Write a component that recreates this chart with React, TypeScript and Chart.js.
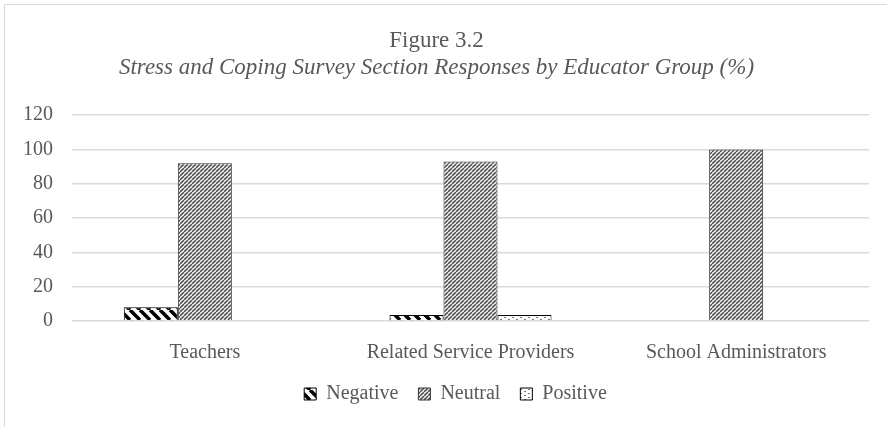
import React, { useEffect, useRef } from "react";
import { Chart, registerables } from "chart.js";

Chart.register(...registerables);

const categories = ["Teachers", "Related Service Providers", "School Administrators"];
const negativeValues = [8, 3.5, 0];
const neutralValues = [92, 93, 100];
const positiveValues = [0, 3.5, 0];
const seriesNames = ["Negative", "Neutral", "Positive"];
const yTicks = [0, 20, 40, 60, 80, 100, 120];

function makePattern(kind: string): CanvasPattern | string {
  const c = document.createElement("canvas");
  const ctx = c.getContext("2d");
  if (!ctx) return "#fff";
  if (kind === "neg") {
    c.width = 10; c.height = 10;
    ctx.fillStyle = "#fff"; ctx.fillRect(0, 0, 10, 10);
    ctx.strokeStyle = "#000"; ctx.lineWidth = 3.5;
    for (let o = -10; o <= 10; o += 10) {
      ctx.beginPath(); ctx.moveTo(o, 0); ctx.lineTo(o + 10, 10); ctx.stroke();
    }
  } else if (kind === "neu") {
    c.width = 4; c.height = 4;
    ctx.fillStyle = "#fff"; ctx.fillRect(0, 0, 4, 4);
    ctx.strokeStyle = "#555"; ctx.lineWidth = 1.6;
    for (let o = -4; o <= 4; o += 4) {
      ctx.beginPath(); ctx.moveTo(o, 4); ctx.lineTo(o + 4, 0); ctx.stroke();
    }
  } else {
    c.width = 8; c.height = 4;
    ctx.fillStyle = "#fff"; ctx.fillRect(0, 0, 8, 4);
    ctx.fillStyle = "#777"; ctx.fillRect(0, 1, 2, 1);
    ctx.fillRect(4, 3, 2, 1);
  }
  const p = ctx.createPattern(c, "repeat");
  return p || "#fff";
}

const frame = {
  id: "frame",
  beforeDraw(chart: any) {
    const ctx = chart.ctx;
    ctx.save();
    ctx.fillStyle = "#fff";
    ctx.fillRect(0, 0, chart.width, chart.height);
    ctx.strokeStyle = "#d9d9d9";
    ctx.lineWidth = 1;
    ctx.strokeRect(4.5, 4.5, chart.width + 50, chart.height + 50);
    ctx.restore();
  },
};

const legendShift = {
  id: "legendShift",
  afterLayout(chart: any) {
    const lg = chart.legend;
    if (lg) {
      lg.left += 19;
      lg.right += 19;
    }
  },
};

export default function App() {
  const ref = useRef<HTMLCanvasElement>(null);
  useEffect(() => {
    if (!ref.current) return;
    const pats = [makePattern("neg"), makePattern("neu"), makePattern("pos")];
    const borders = ["#000", "#333", "#000"];
    const vals = [negativeValues, neutralValues, positiveValues];
    const font = "'Liberation Serif', 'Times New Roman', serif";
    const chart = new Chart(ref.current, {
      type: "bar",
      data: {
        labels: categories,
        datasets: seriesNames.map((n, i) => ({
          label: n,
          data: vals[i],
          backgroundColor: pats[i] as any,
          borderColor: borders[i],
          borderWidth: 1,
          categoryPercentage: 0.61,
          barPercentage: 1,
        })),
      },
      options: {
        animation: false,
        responsive: false,
        devicePixelRatio: 1,
        layout: { padding: { top: 27, left: 4, right: 18, bottom: 13 } },
        plugins: {
          title: {
            display: true,
            text: "Figure 3.2",
            color: "#595959",
            font: { family: font, size: 23, weight: "normal" },
            padding: { top: 0, bottom: 0 },
          },
          subtitle: {
            display: true,
            text: "Stress and Coping Survey Section Responses by Educator Group (%)",
            color: "#595959",
            font: { family: font, size: 23, style: "italic", weight: "normal" },
            padding: { top: 0, bottom: 33 },
          },
          legend: {
            position: "bottom",
            labels: {
              color: "#595959",
              font: { family: font, size: 20 },
              boxWidth: 12,
              boxHeight: 12,
              padding: 20,
            },
          },
          tooltip: { enabled: false },
        },
        scales: {
          x: {
            grid: { display: false },
            border: { display: false },
            ticks: { color: "#595959", font: { family: font, size: 20 }, padding: 12 },
            afterFit: (axis: any) => {
              axis.height = 43;
            },
          },
          y: {
            min: 0,
            max: 120,
            afterBuildTicks: (axis: any) => {
              axis.ticks = yTicks.map((v) => ({ value: v }));
            },
            grid: { color: "#d9d9d9", lineWidth: 1.5, drawTicks: false },
            border: { display: false },
            ticks: { color: "#595959", font: { family: font, size: 20 }, padding: 19 },
          },
        },
      },
      plugins: [frame, legendShift],
    });
    return () => chart.destroy();
  }, []);
  return (
    <div style={{ position: "absolute", left: 0, top: 0, width: 887, height: 427 }}>
      <canvas ref={ref} width={887} height={427} style={{ display: "block" }} />
    </div>
  );
}
